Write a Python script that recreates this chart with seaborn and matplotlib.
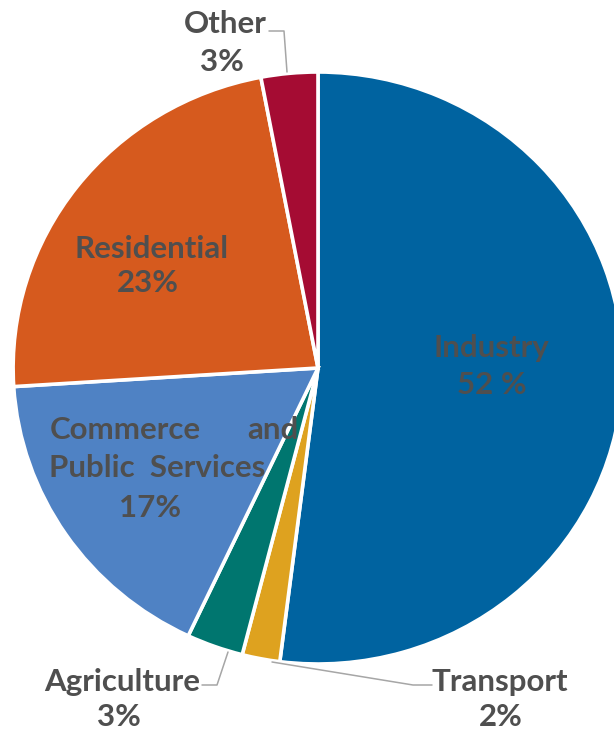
import matplotlib
matplotlib.use("Agg")
import matplotlib.pyplot as plt
import seaborn as sns

# Final energy consumption by sector (share, %)
sectors = ["Industry", "Transport", "Agriculture", "Commerce and Public Services", "Residential", "Other"]
shares = [52, 2, 3, 17, 23, 3]
share_labels = ["52 %", "2%", "3%", "17%", "23%", "3%"]
colors = ["#0063a0", "#dea21f", "#00766f", "#4f82c4", "#d65a1e", "#a50c33"]

sns.set_theme(style="white")
plt.rcParams["font.family"] = ["Lato", "DejaVu Sans"]

W, H = 614, 733
SX = 1.03  # slight horizontal stretch of the whole drawing
fig = plt.figure(figsize=(W / 100, H / 100), dpi=100)
ax = fig.add_axes([0, 0, 1, 1])

def X(px):
    return px / SX

def Y(py):
    return H - py

cx, cy, r = 318, 368, 296
ax.pie(shares, colors=colors, startangle=90, counterclock=False,
       center=(X(cx), Y(cy)), radius=r,
       wedgeprops=dict(edgecolor="white", linewidth=2.6))
ax.set_aspect("auto")
ax.set_xlim(0, W / SX)
ax.set_ylim(0, H)
ax.axis("off")

txt = dict(color="#4f4f4f", fontsize=22.5, fontweight="bold", ha="center", va="baseline")

# labels inside the wedges
ax.text(X(491), Y(357), sectors[0], **txt)
ax.text(X(492), Y(394), share_labels[0], **txt)
ax.text(X(152), Y(258), sectors[4], **txt)
ax.text(X(148), Y(292), share_labels[4], **txt)
ax.text(X(50), Y(439), "Commerce", **{**txt, "ha": "left"})
ax.text(X(298), Y(439), "and", **{**txt, "ha": "right"})
ax.text(X(157), Y(477), "Public  Services", **txt)
ax.text(X(150), Y(517), share_labels[3], **txt)

# labels outside with leader lines
ax.text(X(225), Y(33), sectors[5], **txt)
ax.text(X(222), Y(71), share_labels[5], **txt)
ax.text(X(122), Y(691), sectors[2], **txt)
ax.text(X(119), Y(726), share_labels[2], **txt)
ax.text(X(500), Y(691), sectors[1], **txt)
ax.text(X(501), Y(726), share_labels[1], **txt)

lead = dict(color="#a6a6a6", linewidth=1.1)
ax.plot([X(269), X(284), X(287)], [Y(31), Y(31), Y(72)], **lead)
ax.plot([X(202), X(217), X(228)], [Y(685), Y(685), Y(652)], **lead)
ax.plot([X(272), X(413), X(432)], [Y(662), Y(685), Y(685)], **lead)

fig.savefig("out.png", dpi=100, facecolor="white")
